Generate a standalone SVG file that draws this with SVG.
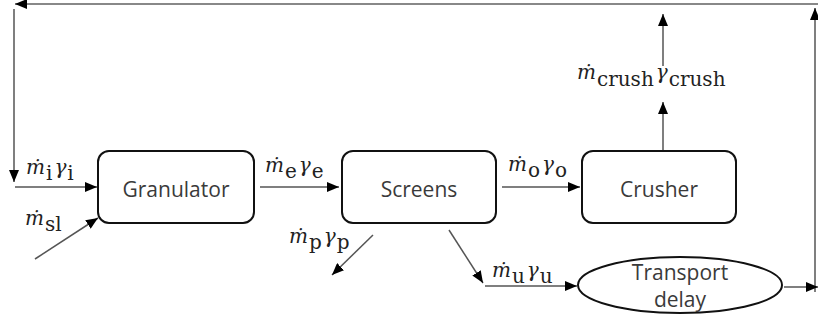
<svg xmlns="http://www.w3.org/2000/svg" width="818" height="323" viewBox="0 0 818 323">
  <defs>
    <marker id="arrow" viewBox="0 0 12 10" refX="12" refY="5" markerWidth="12" markerHeight="10" markerUnits="userSpaceOnUse" orient="auto">
      <path d="M0,0 L12,5 L0,10 Z" fill="#000"/>
    </marker>
  </defs>
  <style>
    .box { fill: #fff; stroke: #111; stroke-width: 2; }
    .name { font-family: "Open Sans", "Liberation Sans", sans-serif; font-size: 21px; fill: #3a3a3a; text-anchor: middle; }
    .wire-end { stroke: #555; stroke-width: 1.5; fill: none; marker-end: url(#arrow); }
    .flow { font-family: "DejaVu Serif", "Liberation Serif", serif; font-size: 20px; fill: #222; }
    .flow .v { font-style: italic; }
  </style>
  <rect width="818" height="323" fill="#fff"/>

  <g id="connectors">
    <!-- recycle loop along the top and sides -->
    <line class="wire-end" x1="818" y1="4" x2="15" y2="4" style="stroke:#888;stroke-width:2"/>
    <line class="wire-end" x1="14" y1="9" x2="14" y2="182"/>
    <line class="wire-end" x1="815" y1="292" x2="815" y2="8"/>
    <!-- feed lines -->
    <line class="wire-end" x1="15" y1="187" x2="97" y2="187"/>
    <line class="wire-end" x1="35" y1="259" x2="98" y2="218"/>
    <!-- granulator to screens to crusher -->
    <line class="wire-end" x1="260" y1="187" x2="339" y2="187"/>
    <line class="wire-end" x1="502" y1="187" x2="580" y2="187"/>
    <!-- screens products -->
    <line class="wire-end" x1="373" y1="235" x2="332" y2="275"/>
    <line class="wire-end" x1="449" y1="230" x2="483" y2="283"/>
    <line class="wire-end" x1="485" y1="286" x2="577" y2="286"/>
    <!-- crusher outlet -->
    <line class="wire-end" x1="663" y1="150" x2="663" y2="102"/>
    <line class="wire-end" x1="663" y1="66" x2="663" y2="14"/>
    <!-- transport delay outlet -->
    <line class="wire-end" x1="784" y1="287" x2="818" y2="287"/>
  </g>

  <g id="granulator">
    <rect class="box" x="98" y="151" width="156" height="72" rx="11"/>
    <text class="name" x="176" y="197">Granulator</text>
  </g>

  <g id="screens">
    <rect class="box" x="342" y="151" width="154" height="72" rx="11"/>
    <text class="name" x="419" y="197">Screens</text>
  </g>

  <g id="crusher">
    <rect class="box" x="582" y="151" width="154" height="72" rx="11"/>
    <text class="name" x="659" y="197">Crusher</text>
  </g>

  <g id="transport-delay">
    <ellipse class="box" cx="680" cy="285" rx="102" ry="28"/>
    <text class="name" x="680" y="280">Transport</text>
    <text class="name" x="680" y="307">delay</text>
  </g>

  <g id="flow-labels">
    <text class="flow" x="26" y="174"><tspan class="v">ṁ</tspan><tspan dx="1" dy="6">i</tspan><tspan class="v" dx="2" dy="-6">γ</tspan><tspan dx="1" dy="6">i</tspan></text>
    <text class="flow" x="25" y="225"><tspan class="v">ṁ</tspan><tspan dx="1" dy="6">sl</tspan></text>
    <text class="flow" x="265" y="172"><tspan class="v">ṁ</tspan><tspan dx="1" dy="6">e</tspan><tspan class="v" dx="2" dy="-6">γ</tspan><tspan dx="1" dy="6">e</tspan></text>
    <text class="flow" x="508" y="171"><tspan class="v">ṁ</tspan><tspan dx="1" dy="6">o</tspan><tspan class="v" dx="2" dy="-6">γ</tspan><tspan dx="1" dy="6">o</tspan></text>
    <text class="flow" x="289" y="243"><tspan class="v">ṁ</tspan><tspan dx="1" dy="6">p</tspan><tspan class="v" dx="2" dy="-6">γ</tspan><tspan dx="1" dy="6">p</tspan></text>
    <text class="flow" x="492" y="277"><tspan class="v">ṁ</tspan><tspan dx="1" dy="6">u</tspan><tspan class="v" dx="2" dy="-6">γ</tspan><tspan dx="1" dy="6">u</tspan></text>
    <text class="flow" x="577" y="79"><tspan class="v">ṁ</tspan><tspan dx="1" dy="7">crush</tspan><tspan class="v" dx="2" dy="-7">γ</tspan><tspan dx="1" dy="7">crush</tspan></text>
  </g>
</svg>
